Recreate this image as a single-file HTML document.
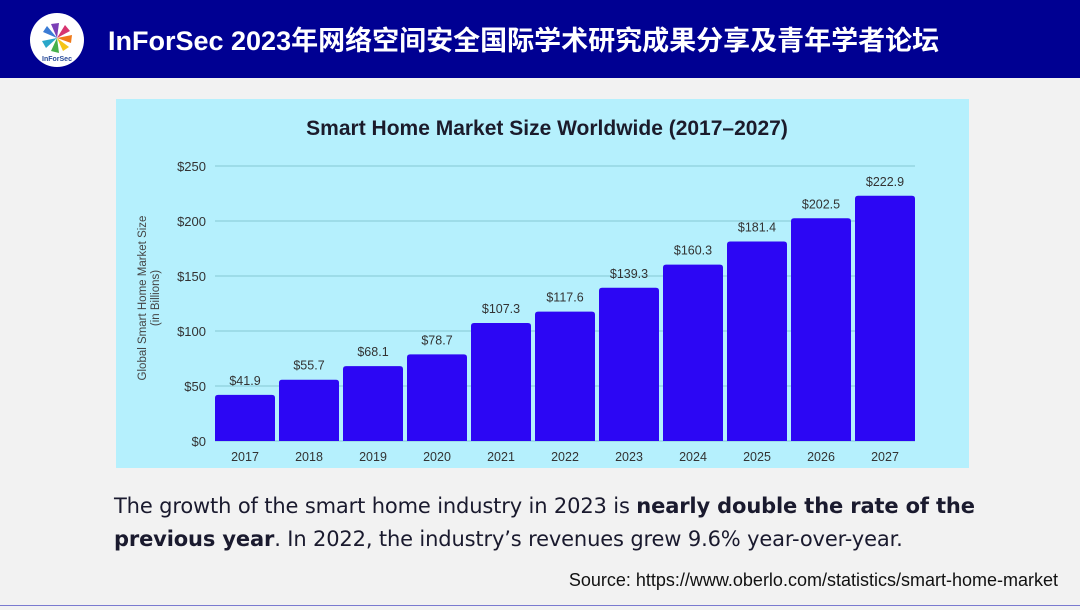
<!DOCTYPE html>
<html><head><meta charset="utf-8">
<style>
body{margin:0;width:1080px;height:610px;background:#f2f2f2;position:relative;overflow:hidden;font-family:"Liberation Sans","Noto Sans CJK SC",sans-serif}
#hdr{position:absolute;left:0;top:0;width:1080px;height:78px;background:#000092}
#logo{position:absolute;left:30px;top:13px;width:54px;height:54px;border-radius:50%;background:#fff;overflow:hidden}
#ttl{position:absolute;left:108px;top:19px;color:#fff;font-size:27px;font-weight:bold;font-family:"Liberation Sans","Noto Sans CJK SC",sans-serif;white-space:nowrap}
#panel{position:absolute;left:116px;top:99px;width:853px;height:369px;background:#b5f0fd}
#txt{position:absolute;left:114px;top:490px;font-size:21px;color:#1a1a2e;line-height:33px;font-family:"DejaVu Sans","Liberation Sans",sans-serif;letter-spacing:-0.15px;white-space:nowrap}
#src{position:absolute;right:22px;top:570px;font-size:18px;color:#111}
#bl{position:absolute;left:0;top:605px;width:1080px;height:1px;background:#7a7ad0}
</style></head><body>
<div id="hdr">
<div id="logo">
<svg width="54" height="54" viewBox="0 0 54 54">
<g transform="translate(27,25)">
<path d="M0 0 L-14 -6 L-10 -12Z" fill="#3a7bd5"/><path d="M0 0 L-6 -14 L2 -15Z" fill="#7b3fb5"/>
<path d="M0 0 L8 -13 L13 -7Z" fill="#d7336f"/><path d="M0 0 L15 -3 L14 5Z" fill="#f07a1a"/>
<path d="M0 0 L12 9 L6 13Z" fill="#f5c518"/><path d="M0 0 L2 15 L-6 13Z" fill="#46b04a"/>
<path d="M0 0 L-11 10 L-15 3Z" fill="#2aa7c9"/></g>
<text x="27" y="48" font-size="7" text-anchor="middle" fill="#2a4c9a" font-weight="bold">InForSec</text>
</svg></div>
<div id="ttl">InForSec 2023年网络空间安全国际学术研究成果分享及青年学者论坛</div>
</div>
<div id="panel">
<svg id="chart" width="853" height="369">
<text x="431" y="36" text-anchor="middle" font-size="21" font-weight="bold" fill="#1b1b2b">Smart Home Market Size Worldwide (2017–2027)</text>
<text transform="translate(30,199) rotate(-90)" text-anchor="middle" font-size="11.5" fill="#444"><tspan x="0" dy="0">Global Smart Home Market Size</tspan><tspan x="0" dy="13">(in Billions)</tspan></text>
<g id="grid"></g><g id="bars"></g>
</svg></div>
<div id="txt">The growth of the smart home industry in 2023 is <b>nearly double the rate of the<br>previous year</b>. In 2022, the industry’s revenues grew 9.6% year-over-year.</div>
<div id="src">Source: https://www.oberlo.com/statistics/smart-home-market</div>
<div id="bl"></div>
<script>
const categories=["2017","2018","2019","2020","2021","2022","2023","2024","2025","2026","2027"];
const values=[41.9,55.7,68.1,78.7,107.3,117.6,139.3,160.3,181.4,202.5,222.9];
const valueLabels=["$41.9","$55.7","$68.1","$78.7","$107.3","$117.6","$139.3","$160.3","$181.4","$202.5","$222.9"];
const ticks=[0,50,100,150,200,250];
const tickLabels=["$0","$50","$100","$150","$200","$250"];
const NS="http://www.w3.org/2000/svg";
const y0=342,yMax=250,pxPer=275/250,x0=99,pitch=64,bw=60;
const y=v=>y0-v*pxPer;const x=i=>x0+i*pitch;
function mk(t,a,p){const e=document.createElementNS(NS,t);for(const k in a)e.setAttribute(k,a[k]);p.appendChild(e);return e;}
const g=document.getElementById('grid'),b=document.getElementById('bars');
ticks.forEach((t,i)=>{
const l=mk('line',{x1:x0,x2:x0+10*pitch+bw,y1:y(t),y2:y(t),stroke:'#8fd0dc','stroke-width':1.2},g);


const tx=mk('text',{x:90,y:y(t)+5,'text-anchor':'end','font-size':13,fill:'#333'},g);tx.textContent=tickLabels[i];


});
values.forEach((v,i)=>{
const r=mk('path',{d:`M${x(i)} ${y0}V${y(v)+3}q0 -3 3 -3h${bw-6}q3 0 3 3V${y0}Z`,fill:'#2c06f4'},b);


const lt=mk('text',{x:x(i)+bw/2,y:y(v)-10,'text-anchor':'middle','font-size':12.5,fill:'#333'},b);lt.textContent=valueLabels[i];


const ct=mk('text',{x:x(i)+bw/2,y:y0+20,'text-anchor':'middle','font-size':12.5,fill:'#333'},b);ct.textContent=categories[i];


});
</script>
</body></html>
